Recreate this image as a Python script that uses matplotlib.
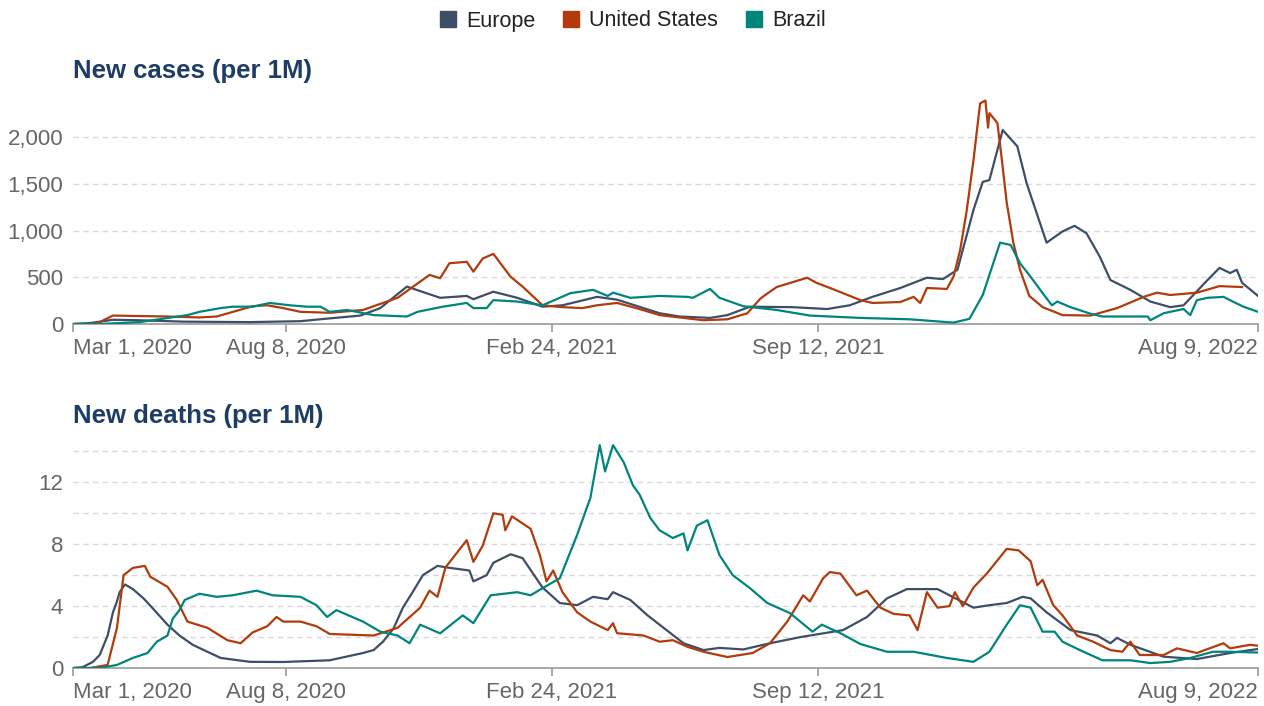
import numpy as np
import pandas as pd
import matplotlib
matplotlib.use('Agg')
import matplotlib.pyplot as plt
import matplotlib.dates as mdates
from matplotlib.lines import Line2D
from matplotlib.ticker import FuncFormatter

plt.rcParams['font.family'] = ['Liberation Sans', 'DejaVu Sans']

start = pd.Timestamp('2020-03-01')
end = pd.Timestamp('2022-08-09')

series_names = ['Europe', 'United States', 'Brazil']
colors = ['#3d4e69', '#b23a0b', '#00857d']

# days since Mar 1, 2020 and values
eu_case_day = [0, 13, 30, 50, 83, 133, 171, 193, 216, 231, 251, 276, 296, 301, 316, 334, 353, 368, 394, 409,
               441, 456, 479, 492, 509, 541, 567, 584, 601, 622, 642, 654, 665, 677, 684, 689, 699, 710, 717,
               732, 744, 753, 762, 772, 780, 795, 810, 825, 835, 853, 862, 870, 875, 879, 891]
eu_case_val = [0, 10, 45, 40, 25, 20, 30, 60, 90, 170, 400, 280, 300, 265, 345, 280, 185, 200, 290, 260,
               115, 80, 65, 95, 185, 180, 160, 200, 290, 385, 495, 480, 580, 1220, 1520, 1540, 2075, 1900, 1505,
               870, 990, 1050, 970, 720, 470, 365, 240, 180, 200, 470, 600, 545, 580, 440, 300]

us_case_day = [0, 13, 20, 30, 71, 95, 108, 135, 146, 158, 171, 193, 218, 244, 268, 276, 283, 296, 301, 308,
               316, 329, 338, 353, 368, 383, 394, 409, 426, 441, 474, 492, 507, 517, 529, 552, 559, 571, 592,
               601, 622, 632, 637, 642, 657, 662, 667, 672, 677, 682, 686, 688, 689, 695, 698, 702, 707, 712,
               719, 729, 744, 765, 785, 805, 815, 825, 845, 862, 879]
us_case_val = [0, 0, 20, 90, 80, 70, 80, 190, 200, 170, 130, 120, 150, 280, 525, 490, 650, 665, 560, 700,
               750, 505, 400, 200, 180, 170, 200, 225, 160, 95, 40, 50, 115, 275, 395, 495, 440, 375, 255,
               225, 235, 290, 225, 385, 375, 505, 790, 1220, 1750, 2360, 2390, 2100, 2255, 2150, 1800, 1300, 870, 580,
               300, 180, 95, 90, 170, 290, 335, 310, 335, 405, 395]

br_case_day = [0, 20, 50, 86, 95, 111, 120, 135, 148, 163, 176, 186, 193, 206, 226, 251, 259, 278, 296, 301,
               311, 316, 334, 353, 374, 391, 402, 406, 419, 441, 462, 466, 479, 486, 504, 529, 554, 592, 629,
               662, 674, 684, 697, 705, 712, 720, 729, 736, 740, 750, 765, 774, 808, 810, 820, 835, 840, 845,
               853, 865, 872, 880, 891]
br_case_val = [0, 0, 20, 95, 130, 170, 185, 185, 225, 200, 185, 185, 130, 150, 95, 80, 130, 185, 225, 170,
               170, 255, 240, 200, 330, 365, 300, 335, 280, 300, 290, 280, 375, 280, 190, 150, 90, 65, 50,
               15, 55, 310, 870, 845, 650, 505, 330, 200, 240, 180, 110, 80, 80, 40, 115, 160, 95, 255,
               280, 290, 240, 185, 130]

eu_death_day = [0, 7, 15, 20, 26, 30, 33, 35, 39, 45, 53, 60, 71, 80, 90, 101, 111, 133, 158, 193,
                218, 226, 233, 241, 248, 256, 263, 274, 281,
                298, 301, 311, 316, 329, 338, 353, 366, 379, 391, 402, 406, 419, 432, 441, 459, 474, 486, 504,
                524, 547, 579, 597, 612, 627, 650, 659, 677, 689, 702, 714, 720, 732, 750, 770, 780, 785, 795,
                820, 845, 870, 891]
eu_death_val = [0, 0.05, 0.4, 0.84, 2.1, 3.6, 4.3, 4.9, 5.4, 5.1, 4.5, 3.85, 2.8, 2.1, 1.5, 1.05, 0.65, 0.4, 0.39, 0.5,
                0.97, 1.16, 1.7, 2.56, 3.9, 5.0, 6.0, 6.6, 6.5,
                6.3, 5.6, 6.0, 6.8, 7.35, 7.1, 5.2, 4.2, 4.06, 4.6, 4.45, 4.9, 4.4, 3.4, 2.8, 1.6, 1.16, 1.3, 1.2,
                1.6, 2.0, 2.45, 3.3, 4.5, 5.1, 5.1, 4.7, 3.9, 4.06, 4.2, 4.6, 4.5, 3.6, 2.45, 2.1, 1.6, 1.95, 1.5,
                0.73, 0.58, 0.97, 1.23]

us_death_day = [0, 13, 26, 33, 38, 45, 54, 58, 71, 78, 86, 101, 116, 126, 135, 146, 153, 158, 171, 183,
                193, 226, 244, 261, 268, 274, 280, 296, 301, 308, 316, 323, 325, 330, 344, 351, 356, 361, 368,
                379, 389, 402, 406, 409, 429, 441, 451, 462, 474, 492, 511, 524, 537, 549, 554, 564, 569, 577,
                589, 597, 607, 617, 629, 635, 642, 650, 659, 663, 669, 677, 687, 702, 711, 720, 725, 729, 737,
                744, 755, 767, 780, 789, 795, 802, 820, 830, 845, 865, 870, 885, 891]
us_death_val = [0, 0, 0.2, 2.6, 6.0, 6.47, 6.6, 5.9, 5.25, 4.4, 3.0, 2.6, 1.8, 1.6, 2.3, 2.7, 3.3, 3.0, 3.0, 2.7,
                2.2, 2.1, 2.6, 3.9, 5.0, 4.6, 6.5, 8.26, 6.86, 7.9, 10.0, 9.9, 8.9, 9.8, 9.0, 7.3, 5.6, 6.3, 4.9,
                3.6, 3.0, 2.45, 2.9, 2.25, 2.1, 1.7, 1.8, 1.37, 1.05, 0.71, 0.97, 1.6, 3.0, 4.7, 4.3, 5.8, 6.2, 6.1,
                4.7, 5.0, 3.9, 3.5, 3.4, 2.45, 4.9, 3.9, 4.0, 4.9, 4.0, 5.2, 6.1, 7.7, 7.6, 6.9, 5.35, 5.7, 4.06,
                3.4, 2.1, 1.7, 1.16, 1.05, 1.7, 0.84, 0.84, 1.27, 0.97, 1.6, 1.27, 1.5, 1.44]

br_death_day = [0, 20, 33, 45, 56, 63, 71, 75, 80, 84, 95, 108, 120, 138, 150, 171, 183, 191, 198, 218,
                231, 244, 253, 261, 276, 293, 301, 314, 334, 344, 353, 366, 379, 389, 396, 400, 406, 414, 421,
                426, 434, 441, 451, 459, 462, 469, 477, 486, 496, 509, 522, 539, 556, 563, 577, 592, 612, 632,
                657, 677, 689, 702, 712, 720, 729, 738, 744, 757, 774, 795, 810, 825, 840, 857, 870, 891]
br_death_val = [0, 0, 0.2, 0.65, 0.97, 1.7, 2.1, 3.2, 3.74, 4.4, 4.8, 4.6, 4.7, 5.0, 4.7, 4.6, 4.06, 3.3, 3.74, 3.0,
                2.35, 2.1, 1.6, 2.8, 2.24, 3.4, 2.9, 4.7, 4.9, 4.7, 5.16, 5.8, 8.6, 11.0, 14.4, 12.7, 14.4, 13.3, 11.8,
                11.2, 9.7, 8.9, 8.4, 8.7, 7.6, 9.2, 9.55, 7.3, 6.0, 5.16, 4.2, 3.55, 2.35, 2.8, 2.25, 1.55, 1.05, 1.05,
                0.65, 0.4, 1.05, 2.8, 4.06, 3.9, 2.35, 2.35, 1.7, 1.16, 0.5, 0.5, 0.32, 0.4, 0.65, 1.05, 1.05, 1.0]

tick_dates = ['2020-03-01', '2020-08-08', '2021-02-24', '2021-09-12', '2022-08-09']
tick_labels = ['Mar 1, 2020', 'Aug 8, 2020', 'Feb 24, 2021', 'Sep 12, 2021', 'Aug 9, 2022']


def to_dates(days):
    return start + pd.to_timedelta(days, unit='D')


fig = plt.figure(figsize=(12.64, 7.06), dpi=100)
ax1 = fig.add_axes([0.0578, 0.5411, 0.9375, 0.3244])
ax2 = fig.add_axes([0.0578, 0.0538, 0.9375, 0.3244])

cases = [(eu_case_day, eu_case_val), (us_case_day, us_case_val), (br_case_day, br_case_val)]
deaths = [(eu_death_day, eu_death_val), (us_death_day, us_death_val), (br_death_day, br_death_val)]

for (d, v), c in zip(cases, colors):
    ax1.plot(to_dates(d), v, color=c, lw=1.6, zorder=3)
for (d, v), c in zip(deaths, colors):
    ax2.plot(to_dates(d), v, color=c, lw=1.6, zorder=3)

ax1.set_ylim(0, 2450)
ax1.set_yticks([0, 500, 1000, 1500, 2000])
ax1.yaxis.set_major_formatter(FuncFormatter(lambda v, p: f'{int(v):,}'))

ax2.set_ylim(0, 14.8)
ax2.set_yticks([0, 4, 8, 12])
ax2.set_yticks([2, 6, 10, 14], minor=True)

for ax in (ax1, ax2):
    ax.set_xlim(start, end)
    for s in ['top', 'right', 'left']:
        ax.spines[s].set_visible(False)
    ax.spines['bottom'].set_color('#9a9a9a')
    ax.spines['bottom'].set_linewidth(1.2)
    ax.grid(axis='y', which='both', color='#d9d9d9', linestyle=(0, (4, 3)), linewidth=1)
    ax.set_axisbelow(True)
    ax.tick_params(axis='y', which='both', length=0, pad=7, labelsize=16, labelcolor='#666666')
    ax.set_xticks(pd.to_datetime(tick_dates))
    ax.set_xticklabels(tick_labels)
    ax.tick_params(axis='x', length=6, width=1.2, color='#9a9a9a', pad=4, labelsize=16, labelcolor='#666666')
    labels = ax.get_xticklabels()
    labels[0].set_ha('left')
    labels[-1].set_ha('right')

title_color = '#1e3d64'
fig.text(0.0578, 1 - 78 / 706, 'New cases (per 1M)', fontsize=18.5, fontweight='bold', color=title_color, va='baseline')
fig.text(0.0578, 1 - 423 / 706, 'New deaths (per 1M)', fontsize=18.5, fontweight='bold', color=title_color, va='baseline')

handles = [Line2D([], [], marker='s', linestyle='none', markersize=12, color=c) for c in colors]
fig.legend(handles, series_names, loc='center', bbox_to_anchor=(0.5, 1 - 21 / 706), ncol=3, frameon=False,
           fontsize=15.5, handlelength=0.9, handletextpad=0.4, columnspacing=1.2, labelcolor='#222222')

fig.savefig('out.png', dpi=100)
